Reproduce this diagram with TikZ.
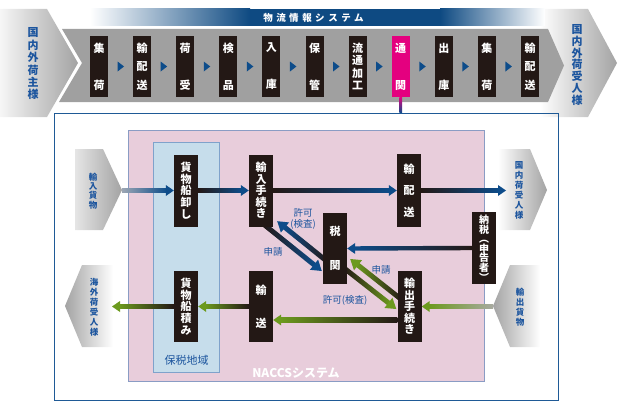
\documentclass[tikz,border=0pt]{standalone}
\usepackage{fontspec}
\setmainfont{Noto Sans CJK JP}
\usetikzlibrary{calc}
\pgfdeclarelayer{bg}
\pgfdeclarelayer{arr}
\pgfsetlayers{bg,arr,main}
\definecolor{boxc}{HTML}{231815}
\definecolor{bluec}{HTML}{0D4C8A}
\definecolor{lblue}{HTML}{1C559E}
\definecolor{greenc}{HTML}{6C9A1E}
\definecolor{magc}{HTML}{E4007F}
\definecolor{pinkc}{HTML}{E8CDDB}
\definecolor{pinkline}{HTML}{8A9CC4}
\definecolor{bondc}{HTML}{C6DDEB}
\definecolor{bondline}{HTML}{7FA2CB}
\definecolor{bandc}{HTML}{A0A0A0}
\definecolor{outerc}{HTML}{1F5A96}
\definecolor{bannerc}{HTML}{0E4A82}
\definecolor{chevd}{HTML}{A3A3A3}
\definecolor{chevl}{HTML}{F6F6F6}
\definecolor{tailg}{HTML}{9CA6B4}
\definecolor{tailh}{HTML}{A8AAA0}
% gradient arrow: #1 start, #2 end, #3 shading, #4 head colour, #5 half width, #6 head length, #7 head half width
\newcommand\garr[7]{%
  \coordinate (hb) at ($(#2)!#6!(#1)$);
  \coordinate (hs) at ($(#2)!#6-1pt!(#1)$);
  \shade[#3] ($(#1)!#5!90:(#2)$) -- ($(hs)!#5!-90:(#1)$) -- ($(hs)!#5!90:(#1)$) -- ($(#1)!#5!-90:(#2)$) -- cycle;
  \fill[#4] ($(hb)!#7!90:(#2)$) -- (#2) -- ($(hb)!#7!-90:(#2)$) -- cycle;
}
\begin{document}
\begin{tikzpicture}[x=1pt,y=-1pt,
  tbox/.style={fill=boxc,text=white,inner sep=0pt,minimum width=18pt,minimum height=61pt,align=center},
  lbox/.style={fill=boxc,text=white,inner sep=0pt,minimum width=24pt,align=center},
  bsp/.style={font=\bfseries\fontsize{11}{#1}\selectfont},
  clab/.style={text=lblue,inner sep=0pt,align=center},
  blab/.style={text=lblue,inner sep=0pt,align=center,font=\fontsize{9.5}{11}\selectfont},
  hor/.style={left color=boxc,right color=bluec},
  horg/.style={left color=greenc,right color=boxc}]
\useasboundingbox (0,0) rectangle (620,412);
\begin{pgfonlayer}{bg}
% top chevrons
\shade[left color=chevl,right color=chevd] (0,9) -- (47,9) -- (78,63) -- (47,117) -- (0,117) -- cycle;
\shade[left color=white,right color=chevd] (540,9) -- (588,9) -- (617,63) -- (588,117) -- (540,117) -- cycle;
% banner
\shade[left color=white,right color=bannerc] (90,9) rectangle (250,26);
\fill[bannerc] (249.5,9) rectangle (440.5,26);
\shade[left color=bannerc,right color=white] (440,9) rectangle (545,26);
% band
\fill[bandc] (62,29) -- (548,29) -- (564,65.5) -- (548,102) -- (59,102) -- (82,63) -- cycle;
% outer frame
\node[draw=outerc,line width=0.8pt,minimum width=504pt,minimum height=287pt,inner sep=0pt] (outer) at (306,256.5) {};
% NACCS area and bonded area
\node[fill=pinkc,draw=pinkline,line width=0.6pt,minimum width=356pt,minimum height=251pt,inner sep=0pt] (naccs) at (306,255.5) {};
\node[fill=bondc,draw=bondline,line width=0.6pt,minimum width=66pt,minimum height=230pt,inner sep=0pt] (bond) at (186,257) {};
% side chevrons
\shade[left color=chevl!80!chevd,right color=chevd] (75,149) -- (103,149) -- (122,190) -- (103,230) -- (75,230) -- cycle;
\shade[left color=white,right color=chevd] (498,149) -- (530,149) -- (547,190) -- (530,230) -- (498,230) -- cycle;
\shade[left color=chevd,right color=white] (65,306) -- (82,265) -- (113,265) -- (113,347) -- (82,347) -- cycle;
\shade[left color=chevd,right color=white] (493,306) -- (510,265) -- (540,265) -- (540,347) -- (510,347) -- cycle;
\end{pgfonlayer}
\node[text=white,inner sep=0pt,font=\bfseries\fontsize{9.5}{10}\selectfont] (banner) at (313.5,18)
  {物\kern3.5pt 流\kern3.5pt 情\kern3.5pt 報\kern3.5pt シ\kern3.5pt ス\kern3.5pt テ\kern3.5pt ム};
\node[clab,font=\bfseries\fontsize{11}{12.4}\selectfont] (shipper) at (33,64) {国\\内\\外\\荷\\主\\様};
\node[clab,font=\bfseries\fontsize{11}{11.7}\selectfont] (consig) at (577,65) {国\\内\\外\\荷\\受\\人\\様};
% top boxes
\node[tbox,bsp=37] (t1) at (99,66.5) {集\\荷};
\node[tbox,bsp=18.5] (t2) at (142.1,66.5) {輸\\配\\送};
\node[tbox,bsp=37] (t3) at (185.2,66.5) {荷\\受};
\node[tbox,bsp=37] (t4) at (228.3,66.5) {検\\品};
\node[tbox,bsp=37] (t5) at (271.4,66.5) {入\\庫};
\node[tbox,bsp=37] (t6) at (314.5,66.5) {保\\管};
\node[tbox,bsp=12.2] (t7) at (357.6,66.5) {流\\通\\加\\工};
\node[tbox,bsp=37,fill=magc] (t8) at (400.7,66.5) {通\\関};
\node[tbox,bsp=37] (t9) at (443.8,66.5) {出\\庫};
\node[tbox,bsp=37] (t10) at (486.9,66.5) {集\\荷};
\node[tbox,bsp=18.5] (t11) at (530,66.5) {輸\\配\\送};
\foreach \i [evaluate=\i as \j using int(\i+1)] in {1,...,10}{
  \coordinate (m) at ($(t\i.east)!0.5!(t\j.west)$);
  \fill[bluec] ($(m)+(-3,-5)$) -- ($(m)+(3.5,0)$) -- ($(m)+(-3,5)$) -- cycle;
}
\shade[top color=magc,bottom color=bluec] ($(t8.south)+(-1.3,0)$) rectangle ($(t8.south |- outer.north)+(1.3,0)$);
\node[text=white,inner sep=0pt,font=\bfseries\fontsize{12}{12}\selectfont] (naccslab) at (296,373) {NACCSシステム};
\node[text=lblue,inner sep=0pt,font=\fontsize{11}{11}\selectfont] (bondlab) at (186.5,360) {保税地域};
\coordinate (inTip) at (122,190.5);
\coordinate (domTip) at (506,190.5);
\coordinate (outTip) at (493,306.5);
\coordinate (ovsTip) at (112,306.5);
\node[clab,font=\bfseries\fontsize{8.5}{9.4}\selectfont] (impgoods) at (93,191) {輸\\入\\貨\\物};
\node[clab,font=\bfseries\fontsize{8.5}{10}\selectfont] (domcons) at (519,190) {国\\内\\荷\\受\\人\\様};
\node[clab,font=\bfseries\fontsize{8.5}{10}\selectfont] (ovscons) at (94,307) {海\\外\\荷\\受\\人\\様};
\node[clab,font=\bfseries\fontsize{8.5}{10}\selectfont] (expgoods) at (520,307) {輸\\出\\貨\\物};
% lower boxes
\node[lbox,minimum height=72pt,bsp=11.75] (g1) at (186,190.5) {貨\\物\\船\\卸\\し};
\node[lbox,minimum height=72pt,bsp=11.5] (imp) at (261,190.5) {輸\\入\\手\\続\\き};
\node[lbox,minimum height=73pt,bsp=21.5] (hai) at (409,190.5) {輸\\配\\送};
\node[lbox,minimum height=71pt,bsp=34] (zei) at (335,248.5) {税\\関};
\node[lbox,minimum height=72pt,font=\bfseries\fontsize{10}{9.6}\selectfont] (noz) at (484,248) {納\\税\\︵\\申\\告\\者\\︶};
\node[lbox,minimum height=71pt,bsp=11.5] (exp) at (409.5,306.5) {輸\\出\\手\\続\\き};
\node[lbox,minimum height=71pt,bsp=33] (yus) at (261,306.5) {輸\\送};
\node[lbox,minimum height=71pt,bsp=11.75] (g2) at (186,306.5) {貨\\物\\船\\積\\み};
% arrow end points
\coordinate (iaS) at ($(imp.south east)+(-9,-2)$);
\coordinate (iaE) at ($(zei.west)+(-1,22.5)$);
\coordinate (ibS) at ($(zei.west)+(5,13.5)$);
\coordinate (ibE) at ($(imp.south east)+(4,-5.5)$);
\coordinate (esS) at ($(exp.west)+(3.5,-7.5)$);
\coordinate (esE) at ($(zei.east)+(3,10.5)$);
\coordinate (epS) at ($(zei.east)+(-2,20.5)$);
\coordinate (epE) at ($(exp.west)+(-1,2.5)$);
\coordinate (e7S) at ($(exp.west)+(0,13.5)$);
\coordinate (e7E) at ($(yus.east)+(0,13.5)$);
\begin{pgfonlayer}{arr}
\garr{inTip}{g1.west}{left color=tailg,right color=bluec}{bluec}{2.2pt}{8pt}{5.5pt}
\garr{g1.east}{imp.west}{hor}{bluec}{2.2pt}{8pt}{5.5pt}
\garr{imp.east}{hai.west}{hor}{bluec}{2.2pt}{8pt}{5.5pt}
\garr{hai.east}{domTip}{hor}{bluec}{2.2pt}{8pt}{5.5pt}
\garr{noz.west}{zei.east}{left color=bluec,right color=boxc}{bluec}{2.2pt}{8pt}{5.5pt}
\garr{outTip}{exp.east}{left color=greenc,right color=tailh}{greenc}{2.2pt}{8pt}{5.5pt}
\garr{e7S}{e7E}{horg}{greenc}{2.2pt}{8pt}{5.5pt}
\garr{yus.west}{g2.east}{horg}{greenc}{2.2pt}{8pt}{5.5pt}
\garr{g2.west}{ovsTip}{horg}{greenc}{2.2pt}{8pt}{5.5pt}
\garr{iaS}{iaE}{left color=boxc,right color=bluec}{bluec}{2.5pt}{10pt}{6.5pt}
\garr{ibS}{ibE}{left color=bluec,right color=boxc}{bluec}{2.5pt}{10pt}{6.5pt}
\garr{esS}{esE}{left color=greenc,right color=boxc}{greenc}{2.5pt}{10pt}{6.5pt}
\garr{epS}{epE}{left color=boxc,right color=greenc}{greenc}{2.5pt}{10pt}{6.5pt}
\end{pgfonlayer}
% labels
\node[blab] (lk1) at (303,218.5) {許可\\(検査)};
\node[blab] (ls1) at (273,252) {申請};
\node[blab] (ls2) at (381,270) {申請};
\node[blab] (lk2) at (345,300) {許可(検査)};
\end{tikzpicture}
\end{document}
